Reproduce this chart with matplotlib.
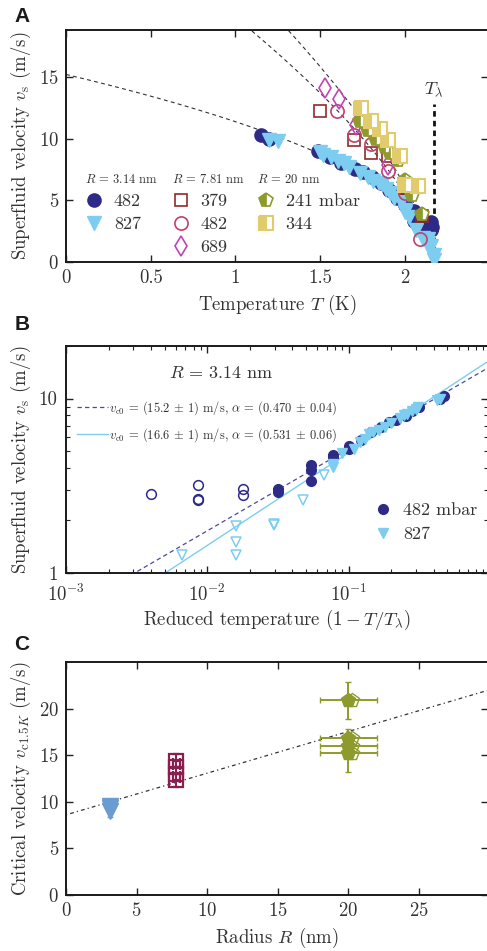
import numpy as np
import matplotlib
matplotlib.use('Agg')
import matplotlib.pyplot as plt
from matplotlib.ticker import FixedLocator, FuncFormatter, LogLocator, NullFormatter

plt.rcParams.update({
    'font.family': 'serif',
    'font.serif': ['cmr10'],
    'mathtext.fontset': 'cm',
    'axes.formatter.use_mathtext': True,
    'axes.unicode_minus': False,
    'text.color': '#333333',
    'axes.labelcolor': '#333333',
    'xtick.color': '#222222',
    'ytick.color': '#222222',
    'xtick.labelcolor': '#333333',
    'ytick.labelcolor': '#333333',
})

# ─── Colours ────────────────────────────────────────────────────────────────
NAVY = "#2D2B87"
SKY = "#7DCDF0"
BROWN = "#8E2B2B"
ROSE = "#C2406C"
MAGENTA = "#C244B4"
OLIVE = "#8F9A2C"
SAND = "#E2CB6C"
STEEL = "#6A9BD1"
WINE = "#8C1D50"

# ─── Data ───────────────────────────────────────────────────────────────────
T_LAMBDA = 2.17

# R = 3.14 nm, reduced temperature (1 - T/T_lambda) and superfluid velocity
t482_fit = [0.0316, 0.0316, 0.0543, 0.0543, 0.0543, 0.0775, 0.0775, 0.100, 0.100,
            0.122, 0.143, 0.169, 0.193, 0.215, 0.253, 0.283, 0.315, 0.447, 0.470]
v482_fit = [3.05, 2.92, 4.14, 3.88, 3.36, 4.72, 4.62, 5.34, 5.16,
            5.81, 6.42, 6.86, 7.33, 7.50, 7.99, 8.53, 8.99, 10.0, 10.3]
t482_out = [0.004, 0.0086, 0.0086, 0.0086, 0.0178, 0.0178]
v482_out = [2.85, 3.21, 2.67, 2.61, 3.03, 2.79]

t827_fit = [0.447, 0.424, 0.31, 0.30, 0.28, 0.26, 0.245, 0.23, 0.20, 0.18, 0.165,
            0.15, 0.14, 0.13, 0.12, 0.109, 0.09, 0.0775, 0.0775]
v827_fit = [9.9, 9.8, 8.9, 8.7, 8.5, 8.2, 8.0, 7.7, 7.2, 6.9, 6.6,
            6.4, 6.3, 5.9, 5.6, 5.16, 4.9, 4.23, 4.05]
t827_out = [0.067, 0.0478, 0.0295, 0.0295, 0.0159, 0.0159, 0.0159, 0.0066, 0.0005, 0.0002]
v827_out = [3.63, 2.61, 1.92, 1.88, 1.86, 1.51, 1.27, 1.27, 0.6, 0.2]

# R = 7.81 nm, temperature (K) and velocity (m/s)
T379 = [1.50, 1.70, 1.80, 1.90, 2.00, 2.10]
v379 = [12.25, 9.9, 8.8, 8.55, 6.0, 3.7]
T482b = [1.60, 1.70, 1.80, 1.90, 2.00, 2.09]
v482b = [12.25, 10.3, 9.57, 7.4, 5.57, 1.9]
T689 = [1.53, 1.61, 1.71, 1.90]
v689 = [14.1, 13.2, 11.1, 7.9]

# R = 20 nm
T241 = [1.735, 1.78, 1.83, 1.88, 1.91, 1.96, 2.00, 2.04, 2.10]
v241 = [11.4, 10.7, 10.0, 9.35, 8.8, 8.3, 6.65, 5.4, 3.9]
T344 = [1.74, 1.80, 1.85, 1.90, 1.97, 2.00, 2.075]
v344 = [12.5, 11.4, 10.75, 9.9, 8.55, 6.25, 6.16]

# fit parameters (v_c0 in m/s, alpha)
FIT_314_482 = (15.2, 0.470)
FIT_314_827 = (16.6, 0.531)
FIT_781 = (29.9, 0.665)
FIT_20 = (35.6, 0.69)

# panel C: critical velocity at 1.5 K vs pore radius
R_c314 = [3.14, 3.14, 3.14]
v_c314 = [9.6, 9.3, 9.0]
e_c314 = [0.5, 0.5, 0.6]
R_c781 = [7.81, 7.81, 7.81, 7.81]
v_c781 = [14.4, 13.7, 13.0, 12.3]
e_c781 = [0.7, 0.7, 0.7, 0.7]
R_c20 = [20.0, 20.0, 20.0, 20.0]
v_c20 = [20.9, 16.8, 16.0, 15.2]
ex_c20 = [2.0, 2.0, 2.0, 2.0]
ey_c20 = [2.0, 1.0, 1.0, 2.0]
LIN_C = (8.6, 0.447)  # intercept, slope

# ─── Figure ─────────────────────────────────────────────────────────────────
fig = plt.figure(figsize=(4.87, 9.51), dpi=100)
W, H = 487, 951


def add_axes(top, bottom, left=66, right=488):
    return fig.add_axes([left / W, 1 - bottom / H, (right - left) / W, (bottom - top) / H])


def style(ax):
    for s in ax.spines.values():
        s.set_linewidth(1.4)
        s.set_color('#1a1a1a')
    ax.tick_params(which='both', direction='in', top=True, right=True,
                   labelsize=13.5, pad=5)
    ax.tick_params(which='major', length=5, width=1.0)
    ax.tick_params(which='minor', length=3, width=0.8)


axA = add_axes(30, 262)
axB = add_axes(346, 573)
axC = add_axes(662, 895)

# ─── Panel A ────────────────────────────────────────────────────────────────
T_fit = np.linspace(0, T_LAMBDA, 400)
for v0, a in (FIT_314_482, FIT_781, FIT_20):
    axA.plot(T_fit, v0 * (1 - T_fit / T_LAMBDA) ** a, color='#333333',
             lw=0.8, dashes=(3.5, 3), zorder=1)
axA.plot([T_LAMBDA, T_LAMBDA], [0, 12.8], color='#111111', lw=2.0,
         dashes=(2, 1.5), zorder=1)
axA.text(T_LAMBDA, 13.3, r'$T_\lambda$', ha='center', va='bottom', fontsize=13)

T482 = T_LAMBDA * (1 - np.array(t482_fit + t482_out))
V482 = np.array(v482_fit + v482_out)
T827 = T_LAMBDA * (1 - np.array(t827_fit + t827_out))
V827 = np.array(v827_fit + v827_out)

hA1, = axA.plot(T482, V482, 'o', ms=9.5, color=NAVY, mec=NAVY, ls='none', zorder=3)
hA2, = axA.plot(T827, V827, 'v', ms=10, color=SKY, mec=SKY, ls='none', zorder=3)
hA3, = axA.plot(T379, v379, 's', ms=9, mfc='none', mec=BROWN, mew=1.2, ls='none', zorder=4)
hA4, = axA.plot(T482b, v482b, 'o', ms=9.5, mfc='none', mec=ROSE, mew=1.2, ls='none', zorder=4)
hA5, = axA.plot(T689, v689, 'd', ms=10, mfc='none', mec=MAGENTA, mew=1.2, ls='none', zorder=4)
hA6, = axA.plot(T241, v241, 'p', ms=10, color=OLIVE, mec=OLIVE, fillstyle='left',
                markerfacecoloralt='white', mew=1.2, ls='none', zorder=5)
hA7, = axA.plot(T344, v344, 's', ms=9.5, color=SAND, mec=SAND, fillstyle='left',
                markerfacecoloralt='white', mew=1.5, ls='none', zorder=5)

axA.set_xlim(0, 2.49)
axA.set_ylim(0, 18.8)
axA.xaxis.set_major_locator(FixedLocator([0, 0.5, 1, 1.5, 2]))
axA.yaxis.set_major_locator(FixedLocator([0, 5, 10, 15]))
axA.xaxis.set_major_formatter(FuncFormatter(lambda x, p: f'{x:g}'))
axA.set_xlabel(r'Temperature $T$ (K)', fontsize=13.5, labelpad=4)
axA.set_ylabel(r'Superfluid velocity $v_\mathrm{s}$ (m/s)', fontsize=13.5, labelpad=4)
style(axA)

leg_kw = dict(frameon=False, loc='upper left', fontsize=13, title_fontsize=9,
              handlelength=1.0, handletextpad=0.6, labelspacing=0.42,
              alignment='left', borderpad=0, borderaxespad=0)
l1 = axA.legend(handles=[hA1, hA2], labels=['482', '827'],
                title=r'$R$ = 3.14 nm', bbox_to_anchor=(0.045, 0.385), **leg_kw)
axA.add_artist(l1)
l2 = axA.legend(handles=[hA3, hA4, hA5], labels=['379', '482', '689'],
                title=r'$R$ = 7.81 nm', bbox_to_anchor=(0.25, 0.385), **leg_kw)
axA.add_artist(l2)
axA.legend(handles=[hA6, hA7], labels=['241 mbar', '344'],
           title=r'$R$ = 20 nm', bbox_to_anchor=(0.452, 0.385), **leg_kw)

# ─── Panel B ────────────────────────────────────────────────────────────────
t_line = np.logspace(-3, 0, 200)
lf1, = axB.plot(t_line, FIT_314_482[0] * t_line ** FIT_314_482[1], color='#4B4A9E',
                lw=0.9, dashes=(3.5, 2.5), zorder=1)
lf2, = axB.plot(t_line, FIT_314_827[0] * t_line ** FIT_314_827[1], color=SKY,
                lw=1.0, zorder=1)
hB1, = axB.plot(t482_fit, v482_fit, 'o', ms=7, color=NAVY, mec=NAVY, ls='none', zorder=3)
axB.plot(t482_out, v482_out, 'o', ms=7, mfc='none', mec=NAVY, mew=1.1, ls='none', zorder=3)
hB2, = axB.plot(t827_fit, v827_fit, 'v', ms=7.5, color=SKY, mec=SKY, ls='none', zorder=3)
axB.plot(t827_out, v827_out, 'v', ms=7.5, mfc='none', mec=SKY, mew=1.1, ls='none', zorder=3)

axB.set_xscale('log')
axB.set_yscale('log')
axB.set_xlim(1e-3, 0.97)
axB.set_ylim(1, 20)
axB.yaxis.set_major_locator(FixedLocator([1, 10]))
axB.yaxis.set_major_formatter(FuncFormatter(lambda y, p: f'{y:g}'))
axB.yaxis.set_minor_locator(LogLocator(base=10, subs=np.arange(2, 10)))
axB.yaxis.set_minor_formatter(NullFormatter())
axB.xaxis.set_major_locator(LogLocator(base=10, numticks=10))
axB.xaxis.set_minor_locator(LogLocator(base=10, subs=np.arange(2, 10), numticks=10))
axB.xaxis.set_minor_formatter(NullFormatter())
axB.set_xlabel(r'Reduced temperature $(1-T/T_\lambda)$', fontsize=13.5, labelpad=2)
axB.set_ylabel(r'Superfluid velocity $v_\mathrm{s}$ (m/s)', fontsize=13.5, labelpad=4)
style(axB)
axB.tick_params(axis='x', which='major', pad=8)
axB.tick_params(axis='y', which='major', pad=6)
axB.text(0.368, 0.881, r'$R$ = 3.14 nm', transform=axB.transAxes, ha='center',
         va='center', fontsize=13)

lb1 = axB.legend(handles=[lf1, lf2],
                 labels=[r'$v_\mathrm{c0}$ = (15.2 $\pm$ 1) m/s, $\mathbf{\alpha}$ = (0.470 $\pm$ 0.04)',
                         r'$v_\mathrm{c0}$ = (16.6 $\pm$ 1) m/s, $\mathbf{\alpha}$ = (0.531 $\pm$ 0.06)'],
                 frameon=False, loc='upper left', bbox_to_anchor=(0.025, 0.765),
                 fontsize=9, handlelength=2.5, handletextpad=0.1, labelspacing=0.75,
                 borderpad=0, borderaxespad=0)
axB.add_artist(lb1)
axB.legend(handles=[hB1, hB2], labels=['482 mbar', '827'], frameon=False,
           loc='upper left', bbox_to_anchor=(0.73, 0.31), fontsize=13,
           handlelength=1.0, handletextpad=0.6, labelspacing=0.45,
           borderpad=0, borderaxespad=0)

# ─── Panel C ────────────────────────────────────────────────────────────────
R_line = np.array([0, 30])
axC.plot(R_line, LIN_C[0] + LIN_C[1] * R_line, color='#333333', lw=0.9,
         ls=(0, (1, 2.5, 3, 2.5)), zorder=1)
axC.errorbar(R_c314, v_c314, yerr=e_c314, fmt='v', ms=11, color=STEEL, mec=STEEL,
             ecolor=STEEL, elinewidth=1.2, capsize=2, zorder=3)
axC.errorbar(R_c781, v_c781, yerr=e_c781, xerr=0.25, fmt='s', ms=10, mfc='none',
             mec=WINE, mew=1.6, ecolor=WINE, elinewidth=1.4, capsize=2, zorder=3)
axC.errorbar(R_c20, v_c20, yerr=ey_c20, xerr=ex_c20, fmt='p', ms=10, color=OLIVE,
             mec=OLIVE, ecolor=OLIVE, elinewidth=1.4, capsize=2, zorder=3)
axC.plot(np.array(R_c20) + 0.25, v_c20, 'p', ms=10, mfc='none', mec=OLIVE, mew=1.0,
         ls='none', zorder=3)

axC.set_xlim(0, 29.9)
axC.set_ylim(0, 25)
axC.xaxis.set_major_locator(FixedLocator([0, 5, 10, 15, 20, 25]))
axC.yaxis.set_major_locator(FixedLocator([0, 5, 10, 15, 20]))
axC.set_xlabel(r'Radius $R$ (nm)', fontsize=13.5, labelpad=4)
axC.set_ylabel(r'Critical velocity $v_{\mathrm{c}1.5K}$ (m/s)', fontsize=13.5, labelpad=4)
style(axC)

# panel letters
for letter, y in (('A', 16), ('B', 325), ('C', 645)):
    fig.text(22 / W, 1 - y / H, letter, ha='center', va='center', fontsize=15,
             fontweight='bold', family='Liberation Sans', color='#1a1a1a')

fig.savefig('out.png', dpi=100, facecolor='white')
